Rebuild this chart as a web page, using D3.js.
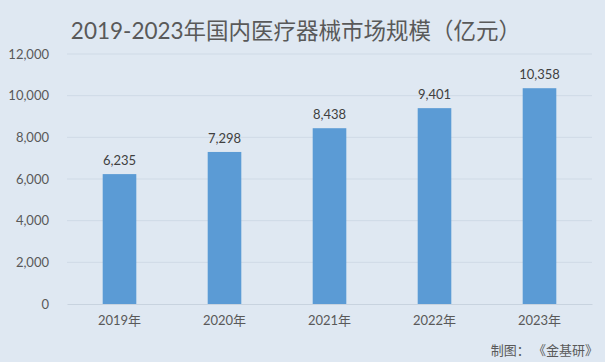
<!DOCTYPE html>
<html>
<head>
<meta charset="utf-8">
<script src="https://cdn.jsdelivr.net/npm/d3@7"></script>
<style>
  html, body { margin: 0; padding: 0; background: #dfe8f2; }
  svg { display: block; font-family: Lato, 'Noto Sans CJK SC', sans-serif; }
  .source { text-spacing-trim: space-all; white-space: pre; }
</style>
</head>
<body>
<div id="chart"></div>
<script>
const years = ['2019年', '2020年', '2021年', '2022年', '2023年']
const values = [6235, 7298, 8438, 9401, 10358]
const yTicks = [0, 2000, 4000, 6000, 8000, 10000, 12000]

const width = 605
const height = 362
const margin = { top: 54, right: 13, bottom: 58, left: 67 }

const svg = d3.select('#chart')
  .append('svg')
  .attr('width', width)
  .attr('height', height)

svg.append('rect')
  .attr('width', width)
  .attr('height', height)
  .attr('fill', '#dfe8f2')

const x = d3.scaleBand()
  .domain(years)
  .range([margin.left, width - margin.right])
  .paddingInner(0.68)
  .paddingOuter(0.34)

const y = d3.scaleLinear()
  .domain([0, 12000])
  .range([height - margin.bottom, margin.top])

// gridlines
svg.append('g')
  .selectAll('line')
  .data(yTicks.filter(d => d > 0))
  .join('line')
  .attr('x1', margin.left)
  .attr('x2', width - margin.right)
  .attr('y1', d => y(d))
  .attr('y2', d => y(d))
  .attr('stroke', '#cfdae6')
  .attr('stroke-width', 1)

// y axis labels
const yAxis = g => g
  .attr('transform', `translate(${margin.left},0)`)
  .call(d3.axisLeft(y).tickValues(yTicks).tickFormat(d3.format(',')).tickSize(0).tickPadding(18))
  .call(g => g.select('.domain').remove())
  .call(g => g.selectAll('text')
    .attr('fill', '#595959')
    .style('font-size', '13px')
    .style('font-family', "Lato, 'Noto Sans CJK SC', sans-serif"))

svg.append('g').call(yAxis)

// bars
svg.append('g')
  .selectAll('rect')
  .data(values)
  .join('rect')
  .attr('x', (d, i) => x(years[i]))
  .attr('width', x.bandwidth())
  .attr('y', d => y(d))
  .attr('height', d => y(0) - y(d))
  .attr('fill', '#5b9bd5')

// value labels
svg.append('g')
  .selectAll('text')
  .data(values)
  .join('text')
  .attr('x', (d, i) => x(years[i]) + x.bandwidth() / 2)
  .attr('y', d => y(d) - 9)
  .attr('text-anchor', 'middle')
  .attr('fill', '#404040')
  .style('font-size', '13px')
  .text(d => d3.format(',')(d))

// x axis
const xAxis = g => g
  .attr('transform', `translate(0,${y(0)})`)
  .call(d3.axisBottom(x).tickSize(0).tickPadding(12))
  .call(g => g.select('.domain').attr('stroke', '#c8d3df'))
  .call(g => g.selectAll('text')
    .attr('fill', '#595959')
    .style('font-size', '13px')
    .style('font-family', "Lato, 'Noto Sans CJK SC', sans-serif"))

svg.append('g').call(xAxis)

// title
svg.append('text')
  .attr('x', 296)
  .attr('y', 39)
  .attr('text-anchor', 'middle')
  .attr('fill', '#595959')
  .style('font-size', '22.5px')
  .text('2019-2023年国内医疗器械市场规模（亿元）')

// source
svg.append('text')
  .classed('source', true)
  .attr('x', 598)
  .attr('y', 355)
  .attr('text-anchor', 'end')
  .attr('fill', '#595959')
  .style('font-size', '13px')
  .text('制图： 《金基研》')
</script>
</body>
</html>
